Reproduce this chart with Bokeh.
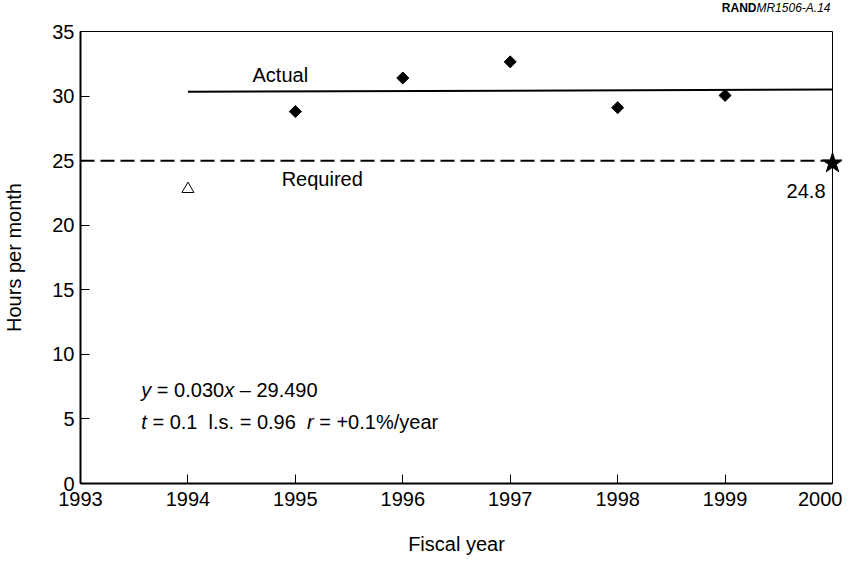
from bokeh.plotting import figure
from bokeh.models import Label, FixedTicker, Range1d
from bokeh.core.properties import value
from bokeh.embed import file_html
from bokeh.resources import INLINE
import math

# ---- data ----
fiscal_years = [1995, 1996, 1997, 1998, 1999]
actual_hours = [28.8, 31.4, 32.65, 29.1, 30.05]
early_year = [1994]
early_hours = [22.8]
target_year = [2000]
target_hours = [24.8]
trend_years = [1994, 2000]
trend_hours = [30.33, 30.51]
required_years = [1993, 2000]
required_hours = [25, 25]
x_ticks = [1993, 1994, 1995, 1996, 1997, 1998, 1999, 2000]
y_ticks = [0, 5, 10, 15, 20, 25, 30, 35]

FONT = "Liberation Sans"
FS = "20px"

p = figure(width=842, height=557, output_backend="svg", toolbar_location=None,
           x_range=Range1d(1993, 2000), y_range=Range1d(0, 35),
           min_border_left=78, min_border_right=10, min_border_top=31,
           min_border_bottom=73)

p.xgrid.visible = False
p.ygrid.visible = False
p.outline_line_color = "black"
p.outline_line_width = 1
p.outline_line_alpha = 1
p.background_fill_color = "white"
p.border_fill_color = "white"

for ax in (p.xaxis[0], p.yaxis[0]):
    ax.axis_line_width = 2
    ax.axis_line_color = "black"
    ax.major_tick_in = 9
    ax.major_tick_out = 0
    ax.major_tick_line_width = 1
    ax.major_tick_line_color = "black"
    ax.minor_tick_line_color = None
    ax.major_label_text_font = FONT
    ax.major_label_text_font_size = FS
    ax.major_label_text_color = "black"
    ax.axis_label_text_font = FONT
    ax.axis_label_text_font_size = FS
    ax.axis_label_text_font_style = "normal"
    ax.axis_label_text_color = "black"

p.xaxis.ticker = FixedTicker(ticks=x_ticks)
p.yaxis.ticker = FixedTicker(ticks=y_ticks)
p.xaxis.axis_label = "Fiscal year"
p.yaxis.axis_label = "Hours per month"
p.xaxis.major_label_standoff = 8
p.xaxis.axis_label_standoff = 24
p.yaxis.major_label_standoff = 6
p.yaxis.axis_label_standoff = 24

# required level (dashed) and trend of actual
p.line(required_years, required_hours, line_color="black", line_width=2, line_dash="14 6")
p.line(trend_years, trend_hours, line_color="black", line_width=2)

# points
p.scatter(fiscal_years, actual_hours, marker="square", angle=math.pi / 4,
          size=8.5, fill_color="black", line_color="black")
p.scatter(early_year, early_hours, marker="triangle", size=12,
          fill_color="white", line_color="black", line_width=1)
star = p.scatter(target_year, target_hours, marker="star", size=21,
                 fill_color="black", line_color="black")
star.level = "overlay"

def lab(x, y, text, align="left", style="normal", xoff=0, yoff=0, size=FS):
    p.add_layout(Label(x=x, y=y, text=text, x_offset=xoff, y_offset=yoff,
                       text_font=FONT, text_font_size=size, text_font_style=style,
                       text_align=align, text_baseline="middle", text_color="black"))

lab(1994.86, 31.6, "Actual", align="center")
lab(1995.25, 23.59, "Required", align="center")
lab(1999.935, 22.64, "24.8", align="right")

em = 20.0
x0, y1, y2 = 1993.566, 7.26, 4.79
lab(x0, y1, "y", style="italic")
lab(x0, y1, "= 0.030", xoff=0.778 * em)
lab(x0, y1, "x", style="italic", xoff=4.142 * em)
lab(x0, y1, "\u2013 29.490", xoff=4.92 * em)

lab(x0, y2, "t", style="italic")
lab(x0, y2, "= 0.1", xoff=0.556 * em)
lab(x0, y2, "l.s. = 0.96", xoff=3.364 * em)
lab(x0, y2, "r", style="italic", xoff=8.284 * em)
lab(x0, y2, "= +0.1%/year", xoff=8.895 * em)

# figure id, top right (outside the frame, drawn on the overlay level)
id1 = p.text(x=[2000], y=[35], text=["MR1506-A.14"], x_offset=-2, y_offset=-24,
             text_font=value(FONT), text_font_size="12px", text_font_style="italic",
             text_align="right", text_baseline="middle", text_color="black")
id1.level = "overlay"
id2 = p.text(x=[2000], y=[35], text=["RAND"], x_offset=-76, y_offset=-24,
             text_font=value(FONT), text_font_size="12px", text_font_style="bold",
             text_align="right", text_baseline="middle", text_color="black")
id2.level = "overlay"

open("out.html", "w").write(file_html(p, INLINE))
